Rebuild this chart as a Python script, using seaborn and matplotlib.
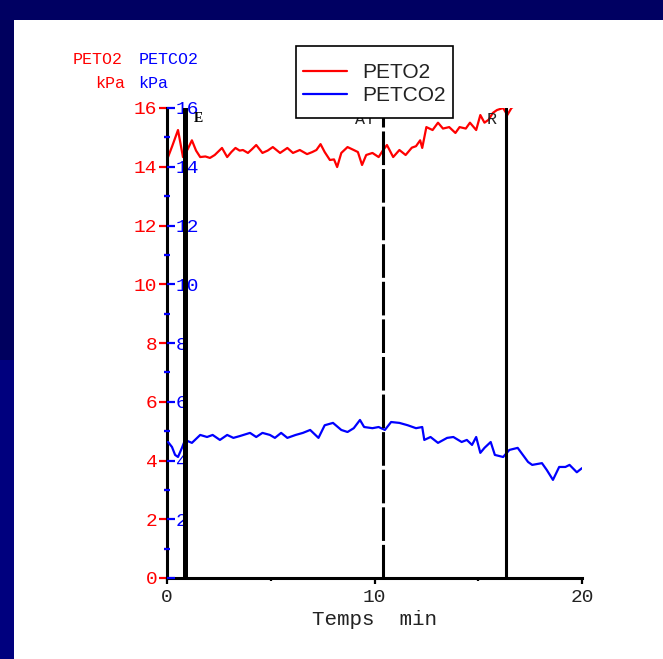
import numpy as np
import pandas as pd
import matplotlib
matplotlib.use("Agg")
import matplotlib.pyplot as plt
from matplotlib.patches import Rectangle
from matplotlib.lines import Line2D
import seaborn as sns

# End-tidal O2 partial pressure (kPa) against time (min)
peto2_t = [0.05, 0.25, 0.53, 0.77, 1.0, 1.2, 1.4, 1.6, 1.85, 2.07, 2.3, 2.65, 2.9, 3.1,
           3.3, 3.5, 3.66, 3.9, 4.1, 4.3, 4.6, 4.85, 5.1, 5.45, 5.8, 6.07, 6.4, 6.75,
           7.0, 7.2, 7.4, 7.6, 7.85, 8.05, 8.2, 8.4, 8.7, 9.0, 9.2, 9.4, 9.6, 9.9,
           10.2, 10.4, 10.6, 10.9, 11.2, 11.5, 11.8, 12.0, 12.2, 12.3, 12.5, 12.8,
           13.06, 13.3, 13.6, 13.9, 14.1, 14.4, 14.6, 14.9, 15.1, 15.3, 15.5, 15.7,
           15.9, 16.2, 16.4, 16.6, 16.8, 17.0]
peto2_v = [14.33, 14.7, 15.25, 14.33, 14.6, 14.9, 14.55, 14.33, 14.35, 14.3, 14.4, 14.64,
           14.33, 14.5, 14.64, 14.55, 14.57, 14.47, 14.6, 14.74, 14.47, 14.55, 14.67,
           14.47, 14.64, 14.47, 14.57, 14.43, 14.5, 14.57, 14.77, 14.5, 14.23, 14.25,
           13.99, 14.47, 14.67, 14.57, 14.5, 14.06, 14.4, 14.47, 14.33, 14.55, 14.74,
           14.33, 14.57, 14.4, 14.65, 14.7, 14.9, 14.64, 15.35, 15.25, 15.5, 15.3,
           15.35, 15.15, 15.35, 15.3, 15.5, 15.25, 15.76, 15.5, 15.6, 15.83, 15.93,
           16.0, 15.76, 16.0, 16.1, 16.05]

# End-tidal CO2 partial pressure (kPa) against time (min)
petco2_t = [0.05, 0.24, 0.39, 0.53, 0.72, 0.87, 1.2, 1.6, 1.93, 2.2, 2.55, 2.9, 3.2, 3.5,
            4.0, 4.3, 4.6, 4.96, 5.2, 5.5, 5.8, 6.2, 6.55, 6.9, 7.3, 7.6, 8.0, 8.4, 8.7,
            9.0, 9.3, 9.5, 9.9, 10.2, 10.5, 10.8, 11.2, 11.6, 12.0, 12.3, 12.4, 12.7,
            13.06, 13.5, 13.8, 14.2, 14.45, 14.7, 14.9, 15.1, 15.3, 15.6, 15.8, 16.2,
            16.5, 16.9, 17.15, 17.4, 17.6, 18.07, 18.3, 18.6, 18.9, 19.2, 19.4, 19.75,
            20.0]
petco2_v = [4.63, 4.46, 4.19, 4.12, 4.43, 4.7, 4.6, 4.87, 4.8, 4.87, 4.7, 4.87, 4.77, 4.83,
            4.94, 4.8, 4.94, 4.87, 4.77, 4.94, 4.77, 4.87, 4.94, 5.04, 4.77, 5.2, 5.28,
            5.04, 4.97, 5.1, 5.38, 5.14, 5.1, 5.14, 5.04, 5.31, 5.28, 5.2, 5.1, 5.14,
            4.7, 4.8, 4.6, 4.77, 4.8, 4.63, 4.7, 4.53, 4.8, 4.26, 4.43, 4.63, 4.19,
            4.12, 4.36, 4.43, 4.19, 3.95, 3.85, 3.91, 3.68, 3.34, 3.78, 3.78, 3.85,
            3.6, 3.74]

# Event markers (min): exercise start, anaerobic threshold, recovery
event_times = [0.89, 10.41, 16.34]
event_labels = ["E", "AT", "R"]

y_ticks = list(range(0, 17, 2))
y_minor = list(range(1, 16, 2))
x_ticks = [0, 10, 20]
x_minor = [5, 15]

df_o2 = pd.DataFrame({"t": peto2_t, "v": peto2_v})
df_co2 = pd.DataFrame({"t": petco2_t, "v": petco2_v})

sns.set_theme(style="white")
plt.rcParams["font.family"] = ["Liberation Mono", "DejaVu Sans"]

W, H = 663, 659
fig = plt.figure(figsize=(W / 100, H / 100), dpi=100)
fig.patch.set_facecolor("#00007e")

def fx(px):
    return px / W

def fy(py):
    return 1 - py / H

# slide frame: dark band, white page
fig.patches.append(Rectangle((0, fy(20)), 1, 1 - fy(20), transform=fig.transFigure,
                             facecolor="#000062", edgecolor="none", zorder=-3))
fig.patches.append(Rectangle((0, fy(360)), fx(14), fy(20) - fy(360), transform=fig.transFigure,
                             facecolor="#00005e", edgecolor="none", zorder=-3))
fig.patches.append(Rectangle((fx(14), 0), 1 - fx(14), fy(20), transform=fig.transFigure,
                             facecolor="white", edgecolor="none", zorder=-2))

x0, x1, yb, yt = 167, 582, 578, 108
ax = fig.add_axes([fx(x0), fy(yb), fx(x1) - fx(x0), fy(yt) - fy(yb)])
ax.set_facecolor("none")
ax.set_xlim(0, 20)
ax.set_ylim(0, 16)

sns.lineplot(data=df_o2, x="t", y="v", ax=ax, color="#ff0000", lw=1.6, estimator=None,
             sort=False, legend=False)

for s in ["top", "right"]:
    ax.spines[s].set_visible(False)
for s in ["left", "bottom"]:
    ax.spines[s].set_color("black")
    ax.spines[s].set_linewidth(2.2)

ax.set_xticks(x_ticks)
ax.set_xticks(x_minor, minor=True)
ax.set_xticklabels([str(v) for v in x_ticks], fontsize=14, color="#222222")
ax.tick_params(axis="x", which="major", direction="out", length=4, width=1.6,
               color="black", pad=4, bottom=True)
ax.tick_params(axis="x", which="minor", direction="out", length=2.5, width=1.6,
               color="black", bottom=True)
ax.set_xlabel("Temps  min", fontsize=15, color="#222222", labelpad=3)
ax.set_ylabel("")

ax.set_yticks(y_ticks)
ax.set_yticks(y_minor, minor=True)
ax.set_yticklabels([str(v) for v in y_ticks], fontsize=14, color="#ff0000")
ax.tick_params(axis="y", which="major", direction="out", length=5.5, width=1.6,
               color="#ff0000", pad=1.5, left=True)
ax.tick_params(axis="y", which="minor", direction="out", length=2.5, width=1.6,
               color="#ff0000", left=True)

# second scale for CO2 sharing the left spine, labels drawn inside
ax2 = ax.twinx()
ax2.set_ylim(0, 16)
sns.lineplot(data=df_co2, x="t", y="v", ax=ax2, color="#0000ff", lw=1.6, estimator=None,
             sort=False, legend=False)
ax2.set_ylim(0, 16)
ax2.set_ylabel("")
ax2.yaxis.set_ticks_position("left")
ax2.yaxis.set_label_position("left")
for s in ax2.spines.values():
    s.set_visible(False)
ax2.set_yticks(y_ticks, [str(v) if v > 0 else "" for v in y_ticks], ha="left",
               fontsize=14, color="#0000ff")
ax2.set_yticks(y_minor, minor=True)
ax2.tick_params(axis="y", which="major", direction="in", length=6, width=1.6,
                color="#0000ff", pad=-6.5, left=True, right=False,
                labelleft=True, labelright=False)
ax2.tick_params(axis="y", which="minor", direction="inout", length=4, width=1.6,
                color="#0000ff", left=True, right=False)

# event markers
ax2.axvline(event_times[0], ymin=0, ymax=1, color="black", lw=3.6, zorder=5)
ax2.axvline(event_times[1], ymin=0, ymax=1, color="black", lw=2.2, zorder=5,
            dashes=(11, 1.3))
ax2.axvline(event_times[2], ymin=0, ymax=1, color="black", lw=2.2, zorder=5)
ax2.text(1.5, 15.63, event_labels[0], fontsize=10, fontweight="bold", color="black",
         ha="center", va="center", family=["Liberation Serif", "DejaVu Serif"], zorder=6)
ax2.text(9.55, 15.6, event_labels[1], fontsize=12, color="#222222",
         ha="center", va="center", zorder=6)
ax2.text(15.65, 15.6, event_labels[2], fontsize=12, color="#222222",
         ha="center", va="center", zorder=6)

# unit captions above the axis
fig.text(fx(98), fy(59), "PETO2", color="#ff0000", fontsize=12, ha="center", va="center")
fig.text(fx(110), fy(83), "kPa", color="#ff0000", fontsize=12, ha="center", va="center")
fig.text(fx(169), fy(59), "PETCO2", color="#0000ff", fontsize=12, ha="center", va="center")
fig.text(fx(153), fy(83), "kPa", color="#0000ff", fontsize=12, ha="center", va="center")

# legend box with a roomier frame than the default padding gives
box = Rectangle((fx(296), fy(118)), fx(453) - fx(296), fy(46) - fy(118),
                transform=fig.transFigure, facecolor="white", edgecolor="black",
                linewidth=1.2, zorder=4)
fig.patches.append(box)

handles = [Line2D([], [], color="#ff0000", lw=1.6), Line2D([], [], color="#0000ff", lw=1.6)]
leg = fig.legend(handles, ["PETO2", "PETCO2"], loc="upper left",
                 bbox_to_anchor=(fx(296), fy(56)), bbox_transform=fig.transFigure,
                 borderaxespad=0, frameon=False, handlelength=2.1,
                 handletextpad=0.75, labelspacing=0.17, borderpad=0.35,
                 prop={"family": ["Liberation Sans", "DejaVu Sans"], "size": 15})
leg.set_zorder(5)
for t in leg.get_texts():
    t.set_color("#222222")

fig.savefig("out.png", dpi=100)
